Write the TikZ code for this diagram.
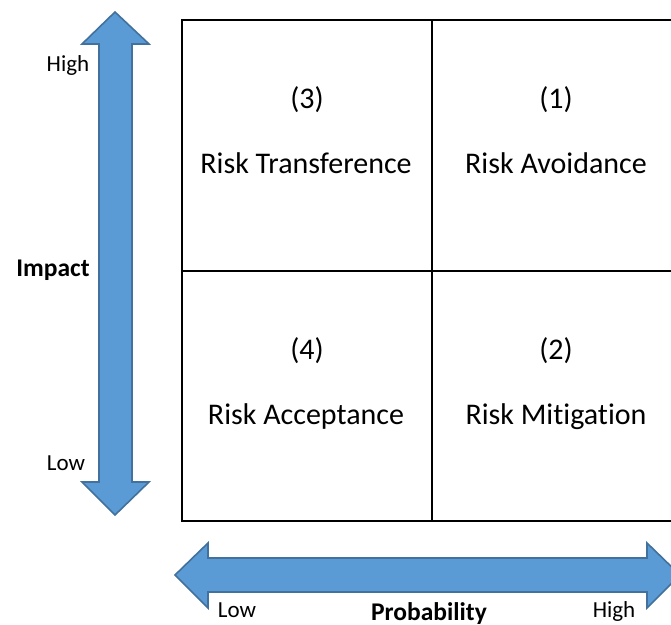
\documentclass[tikz,border=0pt]{standalone}
\usepackage{fontspec}
\setmainfont[Ligatures=NoCommon]{Carlito}
\begin{document}
\begin{tikzpicture}[x=1pt,y=-1pt,
  arrowshape/.style={fill=arrowfill,draw=arrowedge,line width=1.6pt,line join=miter},
  cell/.style={draw=black,line width=2pt,minimum width=250pt,minimum height=250.5pt,inner sep=0pt},
  qtext/.style={font=\fontsize{30}{35}\selectfont,anchor=base},
  axtext/.style={font=\fontsize{23}{27}\selectfont,anchor=base},
  axtitle/.style={font=\fontsize{25.5}{30}\selectfont\bfseries,anchor=base}]
\definecolor{arrowfill}{HTML}{5B9BD5}
\definecolor{arrowedge}{HTML}{41719C}
\useasboundingbox (0,0) rectangle (671,624);
\clip (0,0) rectangle (671,624);
% vertical double arrow (Impact)
\draw[arrowshape] (115,12) -- (149,44) -- (132,44) -- (132,482) -- (149,482)
  -- (115,515) -- (82,482) -- (99,482) -- (99,44) -- (82,44) -- cycle;
% horizontal double arrow (Probability)
\draw[arrowshape] (175,575) -- (208,543) -- (208,558) -- (647,558) -- (647,543)
  -- (680,575) -- (647,608) -- (647,592) -- (208,592) -- (208,608) -- cycle;
% the 2x2 grid
\node[cell] (q3) at (307,145.25) {};
\node[cell] (q1) at (557,145.25) {};
\node[cell] (q4) at (307,395.75) {};
\node[cell] (q2) at (557,395.75) {};
% quadrant labels
\node[qtext] (n3) at (307,108) {(3)};
\node[qtext] (t3) at (306,173) {Risk Transference};
\node[qtext] (n1) at (556,108) {(1)};
\node[qtext] (t1) at (556,173) {Risk Avoidance};
\node[qtext] (n4) at (307,359) {(4)};
\node[qtext] (t4) at (306,424) {Risk Acceptance};
\node[qtext] (n2) at (556,359) {(2)};
\node[qtext] (t2) at (556,424) {Risk Mitigation};
% axis labels
\node[axtext] (hi) at (68,71) {High};
\node[axtext] (lo) at (66,470) {Low};
\node[axtitle] (imp) at (53,276) {Impact};
\node[axtext] (plo) at (237,617) {Low};
\node[axtitle] (prob) at (429,620) {Probability};
\node[axtext] (phi) at (614,617) {High};
\end{tikzpicture}
\end{document}
